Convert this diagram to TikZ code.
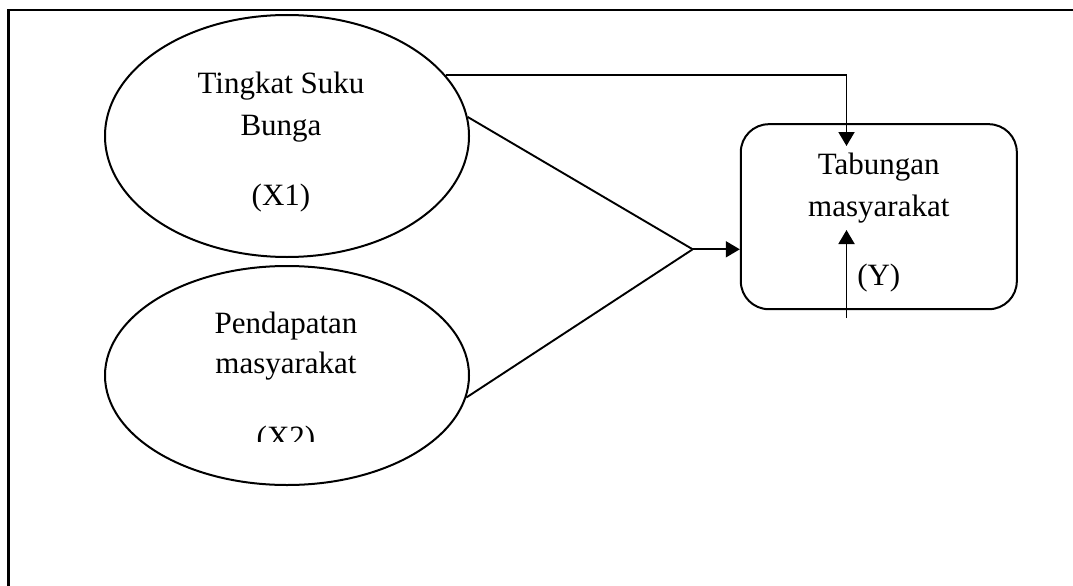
\documentclass[tikz,border=0pt]{standalone}
\usepackage{fontspec}
\setmainfont{Liberation Serif}
\usetikzlibrary{shapes.geometric,arrows.meta}
\begin{document}
\begin{tikzpicture}[x=1pt,y=-1pt,
  ell/.style={draw,ellipse,line width=2pt,inner sep=0pt,minimum width=364pt},
  boxy/.style={draw,rectangle,rounded corners=28pt,line width=2pt,inner sep=0pt,minimum width=276pt,minimum height=185pt},
  txt/.style={font=\fontsize{31}{36}\selectfont,inner sep=0pt,anchor=base},
  conn/.style={line width=1.9pt},
  arr/.style={line width=1.9pt,-{Triangle[length=14pt,width=16pt]}},
  frame/.style={line width=2.4pt}]
\useasboundingbox (0,0) rectangle (1073,586);
\fill[white] (0,0) rectangle (1073,586);
% frame (cropped at right and bottom)
\coordinate (fr) at (1073,10.3);
\coordinate (fc) at (8.3,10.3);
\coordinate (fb) at (8.3,586);
\draw[frame] (fr) -- (fc) -- (fb);
% ellipses
\node[ell,minimum height=242pt] (x1) at (287,136) {};
\node[ell,minimum height=219pt] (x2) at (287,375.5) {};
% box
\node[boxy] (y) at (878.8,216.7) {};
% texts
\node[txt] (t1a) at (281,93) {Tingkat Suku};
\node[txt] (t1b) at (281,135) {Bunga};
\node[txt] (t1c) at (281,205) {(X1)};
\node[txt] (t2a) at (286,333) {Pendapatan};
\node[txt] (t2b) at (286,373) {masyarakat};
\begin{scope}
\clip (150,400) rectangle (430,441.7);
\node[txt] (t2c) at (286,447) {(X2)};
\end{scope}
\node[txt] (tya) at (878.8,174) {Tabungan};
\node[txt] (tyb) at (878.8,216) {masyarakat};
\node[txt] (tyc) at (878.8,285) {(Y)};
% connectors
\coordinate (j) at (692.7,249.3);
\coordinate (topin) at (846.5,146);
\coordinate (botfree) at (846.5,318);
\coordinate (botin) at (846.5,230);
\draw[arr] (x1.21) -- (topin |- x1.21) -- (topin);
\draw[conn] (x1.6) -- (j);
\draw[conn] (x2.-7) -- (j);
\draw[arr] (j) -- (j -| y.west);
\draw[arr] (botfree) -- (botin);
\end{tikzpicture}
\end{document}
